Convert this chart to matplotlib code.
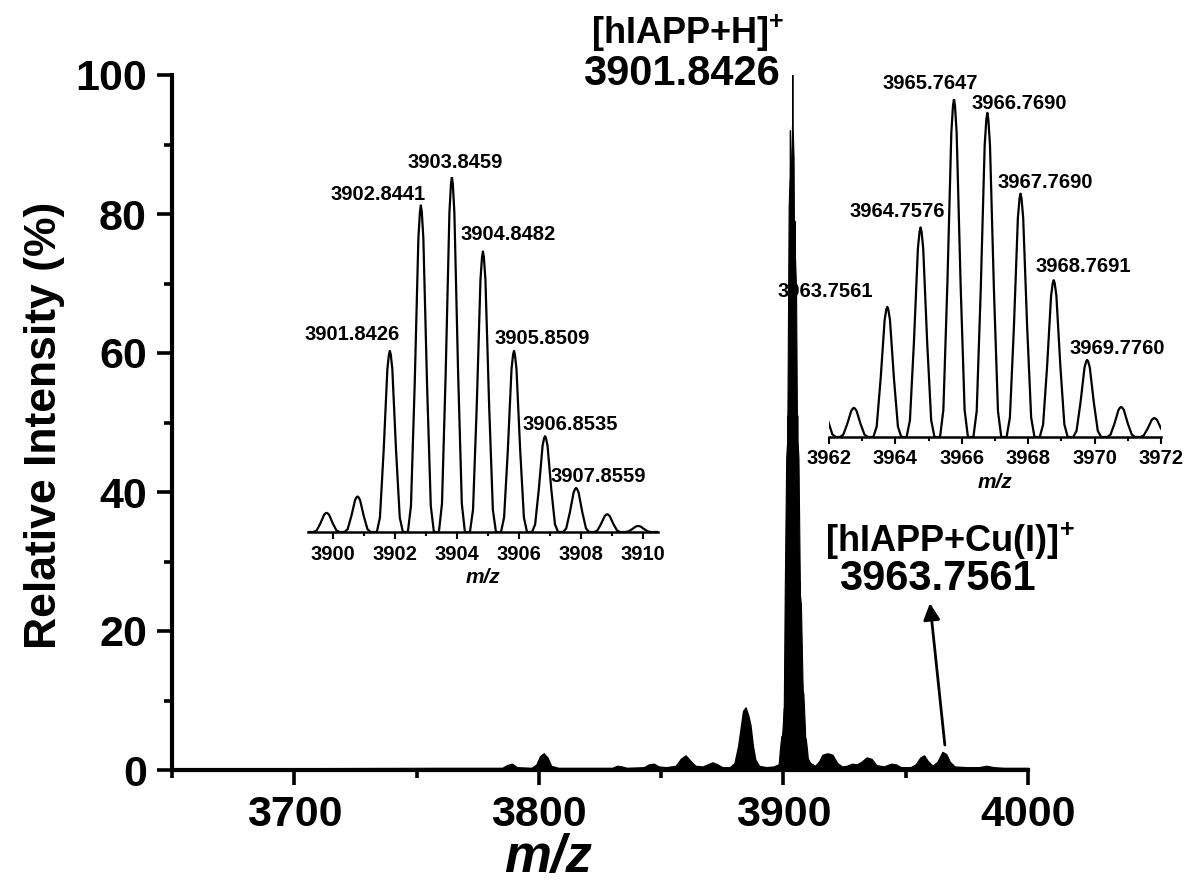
import numpy as np
import matplotlib
matplotlib.use("Agg")
import matplotlib.pyplot as plt

plt.rcParams["font.family"] = ["Liberation Sans", "DejaVu Sans"]
plt.rcParams["font.weight"] = "bold"
plt.rcParams["mathtext.fontset"] = "custom"
plt.rcParams["mathtext.rm"] = "Liberation Sans:bold"
plt.rcParams["mathtext.bf"] = "Liberation Sans:bold"

# ---------------- data ----------------
# main spectrum, low level envelope left and right of the main cluster
left_mz = [3650, 3700, 3760, 3785, 3787, 3789, 3791, 3797, 3799, 3800.5, 3802, 3803.5,
           3805, 3808, 3830, 3832, 3834, 3836, 3843, 3845, 3847, 3849, 3852, 3856,
           3858, 3860, 3862, 3864, 3867, 3869, 3871, 3873, 3875, 3878, 3880, 3881.5,
           3882.5, 3883.5, 3884.5, 3885.5, 3886.5, 3887.5, 3888.5, 3890, 3893, 3896,
           3898, 3899]
left_int = [0.25, 0.25, 0.3, 0.3, 0.7, 0.9, 0.4, 0.3, 0.8, 2.0, 2.4, 1.8,
            0.6, 0.3, 0.3, 0.6, 0.5, 0.3, 0.4, 0.8, 0.9, 0.5, 0.4, 0.6,
            1.6, 2.1, 1.3, 0.6, 0.5, 0.8, 1.1, 0.8, 0.4, 0.4, 1.0, 3.5,
            6.0, 8.5, 9.0, 8.0, 6.5, 3.5, 1.5, 0.6, 0.4, 0.5,
            0.8, 1.5]
right_mz = [3910, 3911, 3913, 3914.5, 3916, 3918, 3920, 3922, 3924, 3926, 3928, 3930, 3932,
            3934, 3936, 3938, 3941, 3944, 3946, 3948, 3952, 3954, 3956, 3957.5, 3959,
            3961, 3963, 3965, 3966.5, 3968, 3970, 3975, 3980, 3983, 3986, 3990, 4000]
right_int = [1.5, 1.0, 0.6, 1.2, 2.2, 2.4, 2.2, 1.0, 0.5, 0.6, 0.9, 0.8, 1.2,
             1.8, 1.6, 0.7, 0.5, 0.9, 0.8, 0.4, 0.4, 0.8, 1.8, 2.1, 1.3,
             0.6, 1.2, 2.6, 2.3, 1.2, 0.5, 0.4, 0.4, 0.6, 0.4, 0.3, 0.3]

# isotope cluster of [hIAPP+H]+ (left inset)
h_mz = [3899.8, 3900.8, 3901.8426, 3902.8441, 3903.8459, 3904.8482, 3905.8509,
        3906.8535, 3907.8559, 3908.86, 3909.86]
h_int = [5.4, 10.0, 51.0, 92.0, 100.0, 79.0, 51.0, 27.0, 12.4, 5.0, 1.7]
h_labels = ["3901.8426", "3902.8441", "3903.8459", "3904.8482",
            "3905.8509", "3906.8535", "3907.8559"]
h_label_x = [3900.62, 3901.46, 3903.95, 3905.66, 3906.76, 3907.66, 3908.56]
h_label_y = [55.5, 95.0, 104.0, 83.7, 54.6, 30.4, 15.5]

# isotope cluster of [hIAPP+Cu(I)]+ (right inset)
cu_mz = [3961.78, 3962.75, 3963.7561, 3964.7576, 3965.7647, 3966.7690, 3967.7690,
         3968.7691, 3969.7760, 3970.8, 3971.8]
cu_int = [10.0, 8.6, 38.5, 62.0, 100.0, 95.9, 72.0, 46.4, 22.8, 8.9, 5.6]
cu_labels = ["3963.7561", "3964.7576", "3965.7647", "3966.7690",
             "3967.7690", "3968.7691", "3969.7760"]
cu_label_x = [3961.88, 3964.05, 3965.04, 3967.72, 3968.51, 3969.65, 3970.67]
cu_label_y = [42.9, 66.6, 104.7, 98.8, 75.4, 50.3, 26.3]

# shape of a single isotope peak in the insets (offset in m/z, fraction of height)
peak_dx = [-0.42, -0.32, -0.2, -0.08, -0.03, 0.0, 0.03, 0.08, 0.2, 0.32, 0.42]
peak_fr = [0.0, 0.08, 0.45, 0.9, 0.98, 1.0, 0.98, 0.9, 0.45, 0.08, 0.0]
# same peak as it looks in the compressed full-range spectrum
main_dx = [-1.7, -1.1, -0.5, -0.1, 0.0, 0.1, 0.5, 1.1, 1.7]
main_fr = [0.0, 0.5, 0.88, 0.93, 1.0, 0.93, 0.88, 0.5, 0.0]


def cluster(centers, heights):
    xs, ys = [], []
    for c, h in zip(centers, heights):
        xs += [c + d for d in peak_dx]
        ys += [h * f for f in peak_fr]
    return np.array(xs), np.array(ys)


W, H = 1187, 890
fig = plt.figure(figsize=(W / 100, H / 100), dpi=100)

# ---------------- main axes ----------------
ax = fig.add_axes([172 / W, 120 / H, 856 / W, 695 / H])
ax.fill_between(left_mz, 0, left_int, color="black", lw=1)
ax.fill_between(right_mz, 0, right_int, color="black", lw=1)
for c, h in zip(h_mz, h_int):
    ax.fill([c + d for d in main_dx], [h * f for f in main_fr],
            color="black", lw=0.8)

ax.set_xlim(3650, 4000)
ax.set_ylim(0, 100)
ax.set_xticks([3700, 3800, 3900, 4000])
ax.set_xticks([3650, 3750, 3850, 3950], minor=True)
ax.set_yticks([0, 20, 40, 60, 80, 100])
ax.set_yticks([10, 30, 50, 70, 90], minor=True)
for s in ["top", "right"]:
    ax.spines[s].set_visible(False)
for s in ["left", "bottom"]:
    ax.spines[s].set_linewidth(3)
ax.tick_params(which="major", length=11, width=2.6, labelsize=31, pad=7)
ax.tick_params(which="minor", length=6, width=2.6)
for lab in ax.get_xticklabels() + ax.get_yticklabels():
    lab.set_fontweight("bold")

fig.text(45 / W, 1 - 425 / H, "Relative Intensity (%)", rotation=90,
         ha="center", va="center", fontsize=32, fontweight="bold")
fig.text(548 / W, 1 - 858 / H, "m/z", ha="center", va="center",
         fontsize=38, fontweight="bold", fontstyle="italic")

fig.text(688 / W, 1 - 33 / H, r"[hIAPP+H]$^{+}$", ha="center", va="center",
         fontsize=26, fontweight="bold")
fig.text(681 / W, 1 - 74 / H, "3901.8426", ha="center", va="center",
         fontsize=30, fontweight="bold")
fig.text(950 / W, 1 - 541 / H, r"[hIAPP+Cu(I)]$^{+}$", ha="center", va="center",
         fontsize=26, fontweight="bold")
fig.text(937 / W, 1 - 579 / H, "3963.7561", ha="center", va="center",
         fontsize=30, fontweight="bold")
ax.annotate("", xy=(3959.9, 24.0), xytext=(3966.0, 3.6),
            arrowprops=dict(arrowstyle="-|>", lw=2, color="black",
                            mutation_scale=25, shrinkA=0, shrinkB=0))


def style_inset(a, major, minor):
    a.patch.set_alpha(0)
    for s in ["top", "right", "left"]:
        a.spines[s].set_visible(False)
    a.spines["bottom"].set_linewidth(1.8)
    a.set_yticks([])
    a.set_xticks(major)
    a.set_xticks(minor, minor=True)
    a.tick_params(which="major", length=5, width=1.5, labelsize=14.5, pad=4)
    a.tick_params(which="minor", length=3, width=1.5)
    for lab in a.get_xticklabels():
        lab.set_fontweight("bold")
    a.set_xlabel("m/z", fontsize=15, fontweight="bold", fontstyle="italic",
                 labelpad=3)
    a.set_ylim(0, 100)


# ---------------- left inset ----------------
a1 = fig.add_axes([308 / W, (H - 532) / H, 350 / W, 355 / H])
x1, y1 = cluster(h_mz, h_int)
x1 = np.concatenate([[3899.2], x1, [3910.5]])
y1 = np.concatenate([[0], y1, [0]])
a1.plot(x1, y1, color="black", lw=1.6)
a1.set_xlim(3899.2, 3910.5)
style_inset(a1, [3900, 3902, 3904, 3906, 3908, 3910],
            [3901, 3903, 3905, 3907, 3909])
for t, x, y in zip(h_labels, h_label_x, h_label_y):
    a1.text(x, y, t, ha="center", va="center", fontsize=14.5, fontweight="bold")

# ---------------- right inset ----------------
a2 = fig.add_axes([829 / W, (H - 437) / H, 332 / W, 338 / H])
x2, y2 = cluster(cu_mz, cu_int)
a2.plot(x2, y2, color="black", lw=1.6)
a2.set_xlim(3962, 3972)
style_inset(a2, [3962, 3964, 3966, 3968, 3970, 3972],
            [3963, 3965, 3967, 3969, 3971])
for t, x, y in zip(cu_labels, cu_label_x, cu_label_y):
    a2.text(x, y, t, ha="center", va="center", fontsize=14.5, fontweight="bold")

fig.savefig("out.png", dpi=100)
